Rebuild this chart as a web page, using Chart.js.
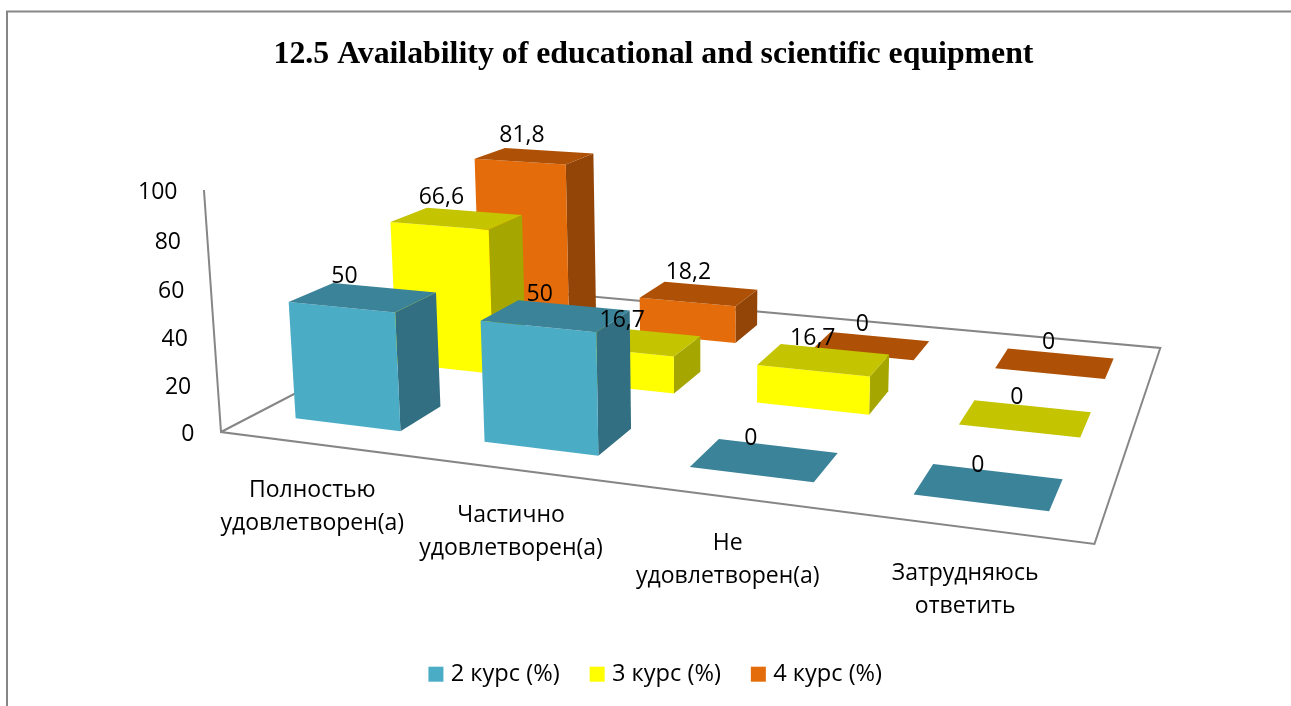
<!DOCTYPE html>
<html><head><meta charset="utf-8">
<style>html,body{margin:0;padding:0;background:#fff;overflow:hidden}canvas{display:block}</style>
<script src="https://cdn.jsdelivr.net/npm/chart.js@4"></script>
</head><body>
<canvas id="c" width="1291" height="706"></canvas>
<script>
const titleText = '12.5 Availability of educational and scientific equipment';
const categories = [['Полностью','удовлетворен(а)'],['Частично','удовлетворен(а)'],['Не','удовлетворен(а)'],['Затрудняюсь','ответить']];
const yTickValues = [0,20,40,60,80,100];
const course2 = [50,50,0,0];
const course3 = [66.6,16.7,16.7,0];
const course4 = [81.8,18.2,0,0];

const FONT = '"Open Sans"';
const LABEL_SIZE = 23;
const AXIS = '#868686';
const faces = {
  c2:{front:'#4BACC6',top:'#3B8399',side:'#336F82'},
  c3:{front:'#FFFF00',top:'#C4C400',side:'#A6A600'},
  c4:{front:'#E46C0A',top:'#AE5106',side:'#934507'}
};

// Camera: floor corners and vertical vanishing point of the 3-D view
const cam = {a:695.3,b:443.8,c:221,d:23.45,e:-47.53,f:432,g:-0.16277,h:0.33497,
             zw:-0.03356,vx:712,vy:7400};
function project(u,v,z){
  const w = cam.g*u+cam.h*v+1+z*cam.zw;
  return {x:(cam.a*u+cam.b*v+cam.c+z*cam.zw*cam.vx)/w,
          y:(cam.d*u+cam.e*v+cam.f+z*cam.zw*cam.vy)/w};
}
const DEPTH = 0.405; // share of a series row taken by the bar

function poly(ctx,pts,fill){
  ctx.beginPath();
  pts.forEach((p,i)=>i?ctx.lineTo(p.x,p.y):ctx.moveTo(p.x,p.y));
  ctx.closePath();
  ctx.fillStyle=fill;ctx.fill();
}

function barBox(chart,meta,el){
  const xs=chart.scales.x, ys=chart.scales.y, n=chart.data.datasets.length;
  const p=el.getProps(['x','y','base','width'],true);
  const uc=(p.x-xs.left)/xs.width, du=p.width/xs.width/2;
  const vc=(meta.index+0.5)/n, dv=DEPTH/n/2;
  const z=(ys.bottom-p.y)/ys.height;
  return {u0:uc-du,u1:uc+du,uc,v0:vc-dv,v1:vc+dv,vc,z};
}

class Bar3DController extends Chart.BarController {
  draw(){
    const chart=this.chart, ctx=chart.ctx, meta=this._cachedMeta, col=chart.data.datasets[this.index].faces;
    meta.data.forEach(el=>{
      const b=barBox(chart,meta,el);
      const P=(u,v,z)=>project(u,v,z);
      if(b.z>0){
        poly(ctx,[P(b.u1,b.v0,0),P(b.u1,b.v1,0),P(b.u1,b.v1,b.z),P(b.u1,b.v0,b.z)],col.side);
        poly(ctx,[P(b.u0,b.v0,0),P(b.u1,b.v0,0),P(b.u1,b.v0,b.z),P(b.u0,b.v0,b.z)],col.front);
      }
      poly(ctx,[P(b.u0,b.v0,b.z),P(b.u1,b.v0,b.z),P(b.u1,b.v1,b.z),P(b.u0,b.v1,b.z)],col.top);
    });
  }
}
Bar3DController.id='bar3d';
Bar3DController.defaults=Chart.BarController.defaults;
Chart.register(Bar3DController);

const scene3d={
  id:'scene3d',
  afterLayout(chart){
    chart.legend.left+=4;chart.legend.right+=4;
  },
  beforeDatasetsDraw(chart){
    const ctx=chart.ctx;
    ctx.save();
    // chart frame
    ctx.strokeStyle=AXIS;ctx.lineWidth=2;
    ctx.beginPath();ctx.moveTo(7,706);ctx.lineTo(7,11.5);ctx.lineTo(1291,11.5);ctx.stroke();
    // floor and wall
    const O=project(0,0,0),R=project(1,0,0),BR=project(1,1,0),BL=project(0,1,0),T=project(0,0,1);
    ctx.beginPath();
    ctx.moveTo(T.x,T.y);ctx.lineTo(O.x,O.y);ctx.lineTo(R.x,R.y);ctx.lineTo(BR.x,BR.y);ctx.lineTo(BL.x,BL.y);ctx.lineTo(O.x,O.y);
    ctx.stroke();
    // value tick labels on the wall
    const ys=chart.scales.y;
    ctx.fillStyle='#000';ctx.font=LABEL_SIZE+'px '+FONT;ctx.textAlign='right';ctx.textBaseline='middle';
    ys.ticks.forEach(t=>{
      const z=(ys.bottom-ys.getPixelForValue(t.value))/ys.height;
      const p=project(0,0,z);
      ctx.fillText(String(t.value),p.x-26.5,p.y+2.5);
    });
    // category labels along the front edge
    const xs=chart.scales.x;
    ctx.textAlign='center';
    chart.data.labels.forEach((lines,i)=>{
      const u=(xs.getPixelForValue(i)-xs.left)/xs.width;
      const p=project(u,0,0);
      lines.forEach((s,k)=>ctx.fillText(s,p.x-2,p.y+46+k*33));
    });
    ctx.restore();
  },
  afterDatasetsDraw(chart){
    const ctx=chart.ctx;
    ctx.save();
    ctx.fillStyle='#000';ctx.font=LABEL_SIZE+'px '+FONT;ctx.textAlign='center';ctx.textBaseline='middle';
    chart.data.datasets.forEach((ds,i)=>{
      const meta=chart.getDatasetMeta(i);
      meta.data.forEach((el,k)=>{
        const b=barBox(chart,meta,el);
        const p=project(b.uc,b.vc,b.z);
        ctx.fillText(String(ds.data[k]).replace('.',','),p.x-23+0.012*p.x+2*i,p.y-21);
      });
    });
    ctx.restore();
  }
};

new Chart(document.getElementById('c'),{
  type:'bar3d',
  data:{labels:categories,datasets:[
    {label:'2 курс (%)',data:course2,backgroundColor:faces.c2.front,faces:faces.c2,clip:false},
    {label:'3 курс (%)',data:course3,backgroundColor:faces.c3.front,faces:faces.c3,clip:false},
    {label:'4 курс (%)',data:course4,backgroundColor:faces.c4.front,faces:faces.c4,clip:false}
  ]},
  plugins:[scene3d],
  options:{
    responsive:false,animation:false,
    layout:{padding:{left:16,right:0,top:36,bottom:10}},
    datasets:{bar3d:{grouped:false,categoryPercentage:1,barPercentage:0.565,borderWidth:0}},
    scales:{
      x:{type:'category',offset:true,display:false,grid:{display:false}},
      y:{type:'linear',min:0,max:100,display:false,
         afterBuildTicks(s){s.ticks=yTickValues.map(v=>({value:v}));}}
    },
    plugins:{
      tooltip:{enabled:false},
      title:{display:true,text:titleText,color:'#000',padding:{top:0,bottom:20},
             font:{family:'"Liberation Serif"',size:31.8,weight:'bold'}},
      legend:{display:true,position:'bottom',
              labels:{boxWidth:6,boxHeight:6,padding:34.5,color:'#000',font:{family:FONT,size:23.6},
                generateLabels(chart){
                  return Chart.defaults.plugins.legend.labels.generateLabels(chart).map(l=>({...l,lineWidth:9,strokeStyle:l.fillStyle}));
                }}}
    }
  }
});
</script>
</body></html>
